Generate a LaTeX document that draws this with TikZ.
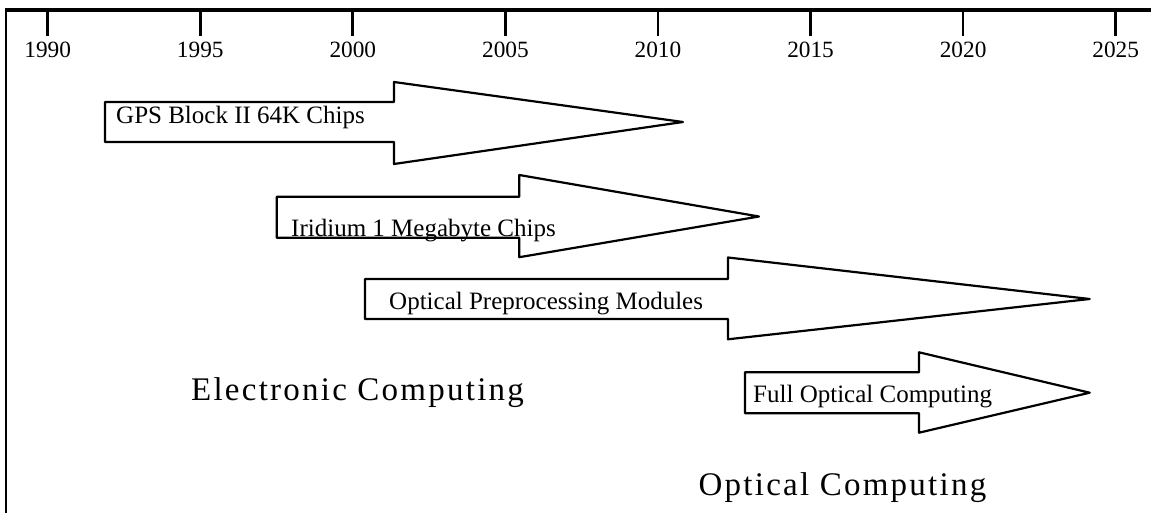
\documentclass[tikz,border=0pt]{standalone}
\usepackage{fontspec}
\setmainfont{Liberation Serif}
\begin{document}
\begin{tikzpicture}[x=1pt,y=-1pt,
  arrowshape/.style={draw=black,line width=2.2pt,line join=round,fill=white},
  ticklabel/.style={anchor=base,inner sep=0pt,font=\fontsize{23.3}{26}\selectfont},
  boxtext/.style={anchor=base west,inner sep=0pt,font=\fontsize{25}{28}\selectfont},
  eratext/.style={anchor=base west,inner sep=0pt,font=\fontsize{33}{36}\selectfont\addfontfeature{LetterSpace=6.8}},
  tickline/.style={line width=2.7pt}]
\useasboundingbox (0,0) rectangle (1151,513);
% frame
\draw[line width=2.5pt] (6.2,513) -- (6.2,10.3);
\draw[line width=4pt] (5,10.3) -- (1151,10.3);
% ticks
\foreach \yr [count=\i from 0] in {1990,1995,2000,2005,2010,2015,2020,2025}{
  \coordinate (t\yr) at ({47.7+152.57*\i},10.3);
  \draw[tickline] (t\yr) -- ++(0,26);
  \node[ticklabel] (l\yr) at ({47.7+152.57*\i},57.3) {\yr};
}
% arrows
\draw[arrowshape] (105,102) -- (394,102) -- (394,82) -- (683,122) -- (394,164) -- (394,142) -- (105,142) -- cycle;
\draw[arrowshape] (276.7,196.7) -- (519.3,196.7) -- (519.3,175) -- (759,216.5) -- (519.3,257.2) -- (519.3,237.7) -- (276.7,237.7) -- cycle;
\draw[arrowshape] (365,279) -- (728,279) -- (728,257.5) -- (1089.7,299) -- (728,339.3) -- (728,319) -- (365,319) -- cycle;
\draw[arrowshape] (745,372.3) -- (919,372.3) -- (919,352.3) -- (1089.7,392.7) -- (919,432.7) -- (919,413.3) -- (745,413.3) -- cycle;
% texts
\node[boxtext] (gps) at (116,123.3) {GPS Block II 64K Chips};
\node[boxtext] (iri) at (291,236.5) {Iridium 1 Megabyte Chips};
\node[boxtext] (opp) at (389,309) {Optical Preprocessing Modules};
\node[boxtext] (foc) at (753,402.7) {Full Optical Computing};
\node[eratext] (ec) at (191,400.7) {Electronic Computing};
\node[eratext] (oc) at (698.5,495.7) {Optical Computing};
\end{tikzpicture}
\end{document}
